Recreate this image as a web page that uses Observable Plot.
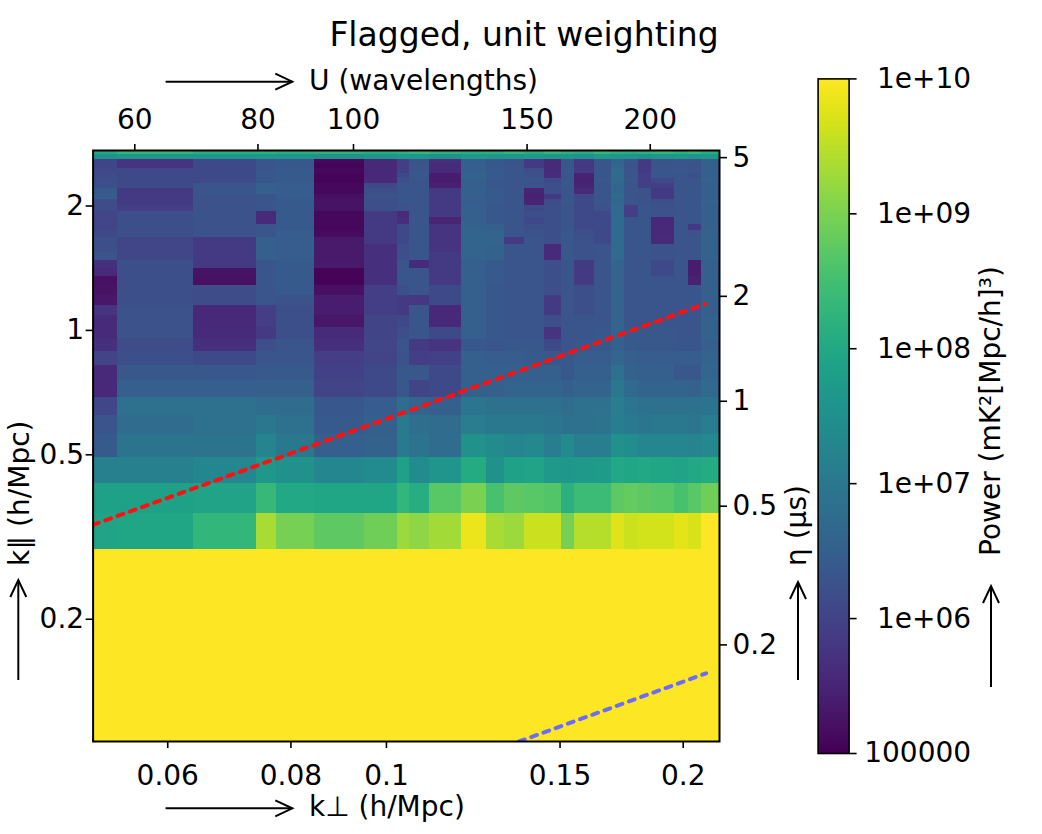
<!DOCTYPE html>
<html>
<head>
<meta charset="utf-8">
<script src="https://cdn.jsdelivr.net/npm/d3@7"></script>
<script src="https://cdn.jsdelivr.net/npm/@observablehq/plot@0.6"></script>
<style>
html, body { margin: 0; padding: 0; background: #ffffff; }
#fig { position: relative; width: 1042px; height: 834px; overflow: hidden; font-family: "DejaVu Sans", sans-serif; background: #ffffff; }
#title { position: absolute; left: 0; top: 15.6px; width: 1048px; text-align: center; font-size: 33px; line-height: 38px; color: #000; z-index: 3; font-family: "DejaVu Sans", sans-serif; }
#main { position: absolute; left: 0; top: 0; }
#cbar { position: absolute; left: 785px; top: 0; }
</style>
</head>
<body>
<div id="fig">
  <div id="main"></div>
  <div id="cbar"></div>
  <div id="title">Flagged, unit weighting</div>
</div>
<script>
// ---------------- data ----------------
// k_perp bin edges (h/Mpc), left to right
const kperpEdges = [0.0504, 0.0533, 0.0637, 0.0738, 0.0773, 0.0845, 0.0950, 0.1026, 0.1055, 0.1106,
  0.1192, 0.1263, 0.1318, 0.1381, 0.1447, 0.1505, 0.1552, 0.1626, 0.1692, 0.1744,
  0.1802, 0.1859, 0.1960, 0.2025, 0.2088, 0.2177];
// k_par bins: index n, centre n * width (h/Mpc)
const kparBinWidth = 0.0657;
const kparBinIndex = [41, 40, 39, 38, 37, 36, 35, 34, 33, 32, 31, 30, 29, 28, 27, 26, 25, 24, 23, 22,
  21, 20, 19, 18, 17, 16, 15, 14, 13, 12, 11, 10, 9, 8, 7, 6, 5, 4, 3, 2];
// log10 power (mK^2 [Mpc/h]^3), one row per k_par bin (top to bottom), one value per k_perp bin
const log10Power = [
  [8.0,8.3,8.1,8.2,8.1,8.2,8.1,8.2,8.3,8.2,8.1,8.2,8.3,8.1,8.3,8.2,8.1,8.3,8.2,8.1,8.2,8.3,8.2,8.3,8.1],
  [7.5,7.6,7.6,7.7,7.6,7.5,7.6,7.7,7.6,7.5,7.7,7.6,7.6,7.7,7.6,7.6,7.5,7.7,7.6,7.6,7.5,7.6,7.7,7.6,7.7],
  [6.0,5.75,6.1,6.3,6.35,5.1,5.55,5.9,6.25,5.7,6.45,6.35,6.25,5.85,5.6,6.3,5.85,6.3,6.55,6.3,5.85,6.25,6.3,6.3,6.5],
  [6.0,5.75,6.1,6.3,6.35,5.05,5.55,5.9,6.3,5.6,6.5,6.35,6.3,5.85,5.6,6.3,5.8,6.3,6.65,6.25,5.85,6.3,6.3,6.25,6.5],
  [6.1,6.1,6.1,6.3,6.4,5.1,5.55,5.9,6.3,5.6,6.5,6.4,6.3,6.2,5.6,6.35,5.85,6.3,6.7,6.3,5.85,6.3,6.35,6.3,6.5],
  [6.15,6.1,6.1,6.35,6.4,5.05,5.55,6.1,6.35,5.4,6.55,6.4,6.3,6.25,5.65,6.3,5.5,6.3,6.7,6.3,5.9,6.3,6.3,6.2,6.5],
  [6.2,6.1,6.1,6.35,6.4,5.05,5.6,6.2,6.3,5.4,6.5,6.35,6.3,6.3,6.1,6.35,5.45,6.35,6.7,6.35,5.9,6.1,6.3,6.3,6.55],
  [6.2,6.1,6.3,6.5,6.45,5.1,6.1,6.3,6.3,5.45,6.5,6.35,6.3,6.25,6.2,6.35,5.5,6.3,6.65,6.3,5.95,5.9,6.3,6.3,6.5],
  [6.4,5.85,6.3,6.5,6.45,5.1,6.2,6.3,6.3,5.85,6.5,6.4,6.3,5.5,6.2,6.3,5.6,6.3,6.65,6.3,6.25,5.85,6.3,6.3,6.5],
  [6.45,5.85,6.25,6.3,6.45,5.2,6.25,6.3,6.3,5.85,6.5,6.4,6.3,5.45,5.85,6.3,6.1,6.3,6.7,6.3,6.25,5.85,6.3,6.3,6.5],
  [6.15,5.85,6.25,6.3,6.4,5.25,6.2,6.3,6.3,5.85,6.45,6.4,6.3,5.5,6.15,6.35,6.1,6.3,6.65,6.3,6.25,6.2,6.3,6.3,6.55],
  [6.15,5.9,6.25,6.3,6.4,5.25,6.2,6.25,6.3,5.85,6.5,6.35,6.3,6.1,6.2,6.3,6.1,6.25,6.7,5.9,6.3,6.25,6.3,6.3,6.5],
  [6.05,6.2,6.25,5.6,6.4,5.1,5.85,5.6,6.3,5.85,6.5,6.35,6.3,6.2,6.2,6.3,6.1,6.1,6.7,5.9,6.3,6.25,6.3,6.3,6.5],
  [6.0,6.2,6.25,5.6,6.4,5.1,5.85,5.7,6.3,5.5,6.5,6.35,6.3,6.1,6.2,6.3,6.1,6.1,6.7,6.3,6.3,5.55,6.3,6.3,6.5],
  [6.0,6.2,6.25,6.3,6.4,5.1,5.85,6.1,6.3,5.75,6.55,6.5,6.3,6.2,6.2,6.3,6.1,6.1,6.7,6.3,6.3,5.55,6.3,5.85,6.5],
  [6.1,6.2,6.25,6.3,6.45,5.15,5.85,6.1,6.3,5.75,6.6,6.6,6.3,6.25,6.2,6.35,6.2,6.1,6.7,6.3,6.3,5.55,6.3,6.25,6.55],
  [6.2,6.05,5.85,6.5,6.45,5.35,5.85,6.1,6.3,5.75,6.6,6.6,5.85,6.3,6.2,6.35,6.25,6.1,6.7,6.3,6.3,5.6,6.3,6.3,6.55],
  [6.2,6.05,5.85,6.5,6.45,5.35,5.7,6.2,6.3,5.75,6.6,6.55,6.3,6.3,5.6,6.35,6.25,6.3,6.7,6.3,6.3,6.25,6.3,6.3,6.55],
  [6.3,6.05,5.85,6.5,6.45,5.35,5.7,6.2,6.3,5.85,6.6,6.55,6.3,6.3,5.6,6.35,6.25,6.3,6.7,6.3,6.3,6.25,6.3,6.3,6.55],
  [5.7,6.2,5.85,6.3,6.4,5.35,5.7,6.3,5.6,5.85,6.5,6.4,6.3,6.3,6.2,6.3,5.85,6.3,6.6,6.3,6.3,6.1,6.3,5.4,6.5],
  [5.6,6.2,5.25,6.3,6.4,5.05,5.7,6.3,6.3,5.85,6.5,6.4,6.3,6.3,6.2,6.3,5.85,6.3,6.6,6.3,6.3,6.1,6.3,5.4,6.5],
  [5.2,6.2,5.2,6.3,6.4,5.05,5.7,6.3,6.3,5.85,6.5,6.4,6.3,6.3,6.2,6.3,5.85,6.3,6.6,6.3,6.3,6.3,6.3,5.45,6.5],
  [5.25,6.2,6.15,6.3,6.4,5.2,5.9,6.2,6.3,6.1,6.5,6.35,6.3,6.3,6.2,6.3,6.2,6.3,6.6,6.3,6.3,6.3,6.3,6.3,6.5],
  [5.3,6.2,6.15,6.3,6.25,5.4,5.9,5.85,5.8,6.1,6.5,6.35,6.3,6.3,5.85,6.3,6.2,6.3,6.6,6.3,6.3,6.3,6.3,6.3,6.5],
  [5.75,6.25,5.55,5.9,6.2,5.4,5.9,5.85,6.3,5.55,6.5,6.35,6.3,6.3,5.85,6.3,6.2,6.3,6.6,6.3,6.3,6.3,6.3,6.3,6.5],
  [5.6,6.25,5.55,5.9,6.2,5.3,6.0,6.1,6.3,5.55,6.5,6.35,6.3,6.3,6.2,6.3,6.3,6.3,6.6,6.3,6.3,6.3,6.3,6.3,6.55],
  [5.6,6.25,5.6,5.85,6.2,5.6,6.0,6.2,6.3,6.1,6.5,6.35,6.3,6.3,5.75,6.3,6.3,6.35,6.6,6.35,6.35,6.35,6.3,6.3,6.55],
  [5.7,6.15,5.7,6.2,6.3,5.7,6.05,6.3,5.85,5.75,6.35,6.3,6.35,6.35,6.1,6.3,6.35,6.35,6.5,6.4,6.35,6.35,6.3,6.3,6.5],
  [6.0,6.2,6.1,6.3,6.3,5.9,6.0,6.25,5.9,5.95,6.5,6.45,6.45,6.4,6.35,6.35,6.45,6.45,6.65,6.5,6.45,6.45,6.45,6.45,6.6],
  [5.55,6.35,6.35,6.4,6.4,5.95,6.1,6.35,6.35,6.1,6.5,6.5,6.5,6.5,6.5,6.35,6.5,6.5,6.85,6.55,6.5,6.5,6.35,6.35,6.65],
  [5.55,6.5,6.5,6.5,6.5,6.0,6.1,6.35,6.0,6.1,6.5,6.5,6.6,6.6,6.6,6.5,6.6,6.6,7.0,6.7,6.6,6.6,6.6,6.55,6.7],
  [6.05,6.85,6.85,6.75,6.75,6.35,6.45,6.75,6.6,6.5,6.95,6.85,6.85,6.85,6.85,6.75,6.85,6.85,7.1,6.95,6.85,6.85,6.85,6.85,6.9],
  [6.3,6.75,6.85,7.0,6.85,6.4,6.5,7.05,6.8,6.75,7.1,7.0,7.0,7.0,6.95,6.85,6.85,6.9,7.1,7.05,6.95,7.0,7.0,6.95,7.1],
  [6.4,6.9,6.9,7.25,7.0,6.5,6.55,7.05,6.9,6.75,7.5,7.4,7.3,7.35,7.1,7.4,7.1,7.1,7.5,7.45,7.3,7.3,7.3,7.25,7.35],
  [7.15,7.15,7.3,7.65,7.5,7.3,7.4,7.85,7.4,7.6,8.05,7.5,7.85,7.9,7.7,7.65,7.7,7.75,8.0,7.95,8.0,7.95,7.9,8.0,8.05],
  [7.85,7.85,7.9,8.35,8.0,7.95,7.95,8.3,8.1,8.7,9.0,8.55,8.75,8.7,8.65,8.2,8.4,8.4,8.75,8.8,8.75,8.7,8.55,8.7,8.9],
  [7.9,7.95,8.3,9.35,8.95,8.75,8.9,9.25,9.15,9.3,9.85,9.35,9.25,9.6,9.6,8.95,9.45,9.45,9.75,9.6,9.65,9.65,9.8,9.7,10.3],
  [10.4,10.5,10.4,10.6,10.5,10.4,10.5,10.6,10.5,10.6,10.7,10.6,10.5,10.6,10.6,10.5,10.6,10.6,10.7,10.6,10.6,10.6,10.7,10.6,10.8],
  [10.8,10.8,10.7,10.9,10.8,10.8,10.8,10.9,10.9,10.9,11.0,10.9,10.9,10.9,10.9,10.8,10.9,10.9,11.0,10.9,10.9,10.9,11.0,10.9,11.0],
  [11.0,11.1,11.0,11.1,11.0,11.0,11.0,11.1,11.1,11.1,11.2,11.1,11.1,11.1,11.1,11.0,11.1,11.1,11.2,11.1,11.1,11.1,11.2,11.1,11.2]
];
// wedge / horizon lines (k_perp, k_par)
const redLineKperp = [0.0504, 0.2105];
const redLineKpar = [0.3386, 1.1588];
const blueLineKperp = [0.1363, 0.2110];
const blueLineKpar = [0.1012, 0.1480];
// axis ticks
const kperpTicks = [0.06, 0.08, 0.1, 0.15, 0.2];
const kperpTickLabels = ["0.06", "0.08", "0.1", "0.15", "0.2"];
const kparTicks = [0.2, 0.5, 1, 2];
const kparTickLabels = ["0.2", "0.5", "1", "2"];
const uTicks = [60, 80, 100, 150, 200];
const uTickLabels = ["60", "80", "100", "150", "200"];
const uPerKperp = 1080;                 // wavelengths per h/Mpc
const etaTicks = [0.2, 0.5, 1, 2, 5];
const etaTickLabels = ["0.2", "0.5", "1", "2", "5"];
const etaAxisKparAtOne = 0.6738;        // k_par position of eta = 1 us on the twin axis
const etaAxisExponent = 0.8435;
const powerTicks = [1e5, 1e6, 1e7, 1e8, 1e9, 1e10];
const powerTickLabels = ["100000", "1e+06", "1e+07", "1e+08", "1e+09", "1e+10"];

// ---------------- build ----------------
const FONT = "DejaVu Sans";
const cells = [];
kparBinIndex.forEach((n, r) => {
  log10Power[r].forEach((v, c) => {
    cells.push({x1: kperpEdges[c], x2: kperpEdges[c + 1],
                y1: (n - 0.5) * kparBinWidth, y2: (n + 0.5) * kparBinWidth, v});
  });
});
const redLine = redLineKperp.map((k, i) => ({kperp: k, kpar: redLineKpar[i]}));
const blueLine = blueLineKperp.map((k, i) => ({kperp: k, kpar: blueLineKpar[i]}));
const uTickPos = uTicks.map(u => u / uPerKperp);
const etaTickPos = etaTicks.map(e => etaAxisKparAtOne * Math.pow(e, etaAxisExponent));

const main = Plot.plot({
  width: 785, height: 834,
  marginLeft: 92.6, marginRight: 66, marginTop: 150, marginBottom: 93,
  style: {fontFamily: FONT, fontSize: "28px", color: "black", background: "transparent", overflow: "visible"},
  x: {type: "log", domain: [0.0504, 0.2177]},
  y: {type: "log", domain: [0.1012, 2.725]},
  color: {type: "linear", scheme: "viridis", domain: [5, 10], clamp: true},
  marks: [
    Plot.rect(cells, {x1: "x1", x2: "x2", y1: "y1", y2: "y2", fill: "v", clip: true, shapeRendering: "crispEdges"}),
    Plot.line(redLine, {x: "kperp", y: "kpar", stroke: "#ff1010", strokeWidth: 4, strokeDasharray: "6,7", clip: true}),
    Plot.line(blueLine, {x: "kperp", y: "kpar", stroke: "#6b6bff", strokeWidth: 4, strokeDasharray: "6,7", clip: true}),
    Plot.frame({stroke: "black", strokeWidth: 2}),
    Plot.axisX({anchor: "bottom", ticks: kperpTicks, tickFormat: d => kperpTickLabels[kperpTicks.indexOf(d)],
      tickSize: 7, tickPadding: 17, strokeWidth: 1.6, fontSize: 28, label: null}),
    Plot.axisX({anchor: "top", ticks: uTickPos, tickFormat: d => uTickLabels[uTickPos.indexOf(d)],
      tickSize: 7, tickPadding: 15, strokeWidth: 1.6, fontSize: 28, label: null}),
    Plot.axisY({anchor: "left", ticks: kparTicks, tickFormat: d => kparTickLabels[kparTicks.indexOf(d)],
      tickSize: 7, tickPadding: 2, strokeWidth: 1.6, fontSize: 28, label: null}),
    Plot.axisY({anchor: "right", ticks: etaTickPos, tickFormat: d => etaTickLabels[etaTickPos.indexOf(d)],
      tickSize: 7, tickPadding: 6, strokeWidth: 1.6, fontSize: 28, label: null})
  ]
});
document.getElementById("main").appendChild(main);

// colour bar
const rampSteps = d3.range(0, 250);
const ramp = rampSteps.map(i => ({lo: Math.pow(10, 5 + i * 5 / 250), hi: Math.pow(10, 5 + (i + 1) * 5 / 250), mid: Math.pow(10, 5 + (i + 0.5) * 5 / 250)}));
const cbar = Plot.plot({
  width: 257, height: 834,
  marginLeft: 32.6, marginRight: 193.4, marginTop: 78.4, marginBottom: 81,
  style: {fontFamily: FONT, fontSize: "28px", color: "black", background: "transparent", overflow: "visible"},
  y: {type: "log", domain: [1e5, 1e10]},
  color: {type: "log", scheme: "viridis", domain: [1e5, 1e10]},
  marks: [
    Plot.rect(ramp, {y1: "lo", y2: "hi", fill: "mid", shapeRendering: "crispEdges"}),
    Plot.frame({stroke: "black", strokeWidth: 1.6}),
    Plot.axisY({anchor: "right", ticks: powerTicks, tickFormat: d => powerTickLabels[powerTicks.indexOf(d)],
      tickSize: 7, tickPadding: 115, textAnchor: "end", strokeWidth: 1.6, fontSize: 28, label: null})
  ]
});
document.getElementById("cbar").appendChild(cbar);

// ---------------- annotations: axis titles and arrows ----------------
function addArrow(svg, x1, y1, x2, y2) {
  const a = Math.atan2(y2 - y1, x2 - x1), L = 17, W = 8;
  const bx = x2 - L * Math.cos(a), by = y2 - L * Math.sin(a);
  const px = -Math.sin(a) * W, py = Math.cos(a) * W;
  const g = d3.select(svg).append("g").attr("fill", "none").attr("stroke", "black").attr("stroke-width", 2);
  g.append("path").attr("d", `M${x1},${y1}L${x2},${y2}`);
  g.append("path").attr("d", `M${bx + px},${by + py}L${x2},${y2}L${bx - px},${by - py}`);
}
function addLabel(svg, text, x, y, rotate) {
  d3.select(svg).append("text")
    .attr("transform", `translate(${x},${y})` + (rotate ? " rotate(-90)" : ""))
    .attr("text-anchor", "start")
    .attr("font-family", FONT).attr("font-size", 28).attr("fill", "black")
    .text(text);
}
addArrow(main, 165.6, 81.7, 292.3, 81.7);
addLabel(main, "U (wavelengths)", 309, 89.7, false);
addArrow(main, 165.6, 808.3, 292.3, 808.3);
addLabel(main, "k\u22A5 (h/Mpc)", 309, 816, false);
addArrow(main, 18.3, 680, 18.3, 580);
addLabel(main, "k\u2225 (h/Mpc)", 29, 566, true);

// colour-bar svg is offset 785 px
addArrow(cbar, 798 - 785, 680, 798 - 785, 582);
addLabel(cbar, "\u03B7 (\u03BCs)", 806 - 785, 566, true);
addArrow(cbar, 991 - 785, 687, 991 - 785, 586);
addLabel(cbar, "Power (mK\u00B2[Mpc/h]\u00B3)", 1000 - 785, 556, true);
</script>
</body>
</html>
